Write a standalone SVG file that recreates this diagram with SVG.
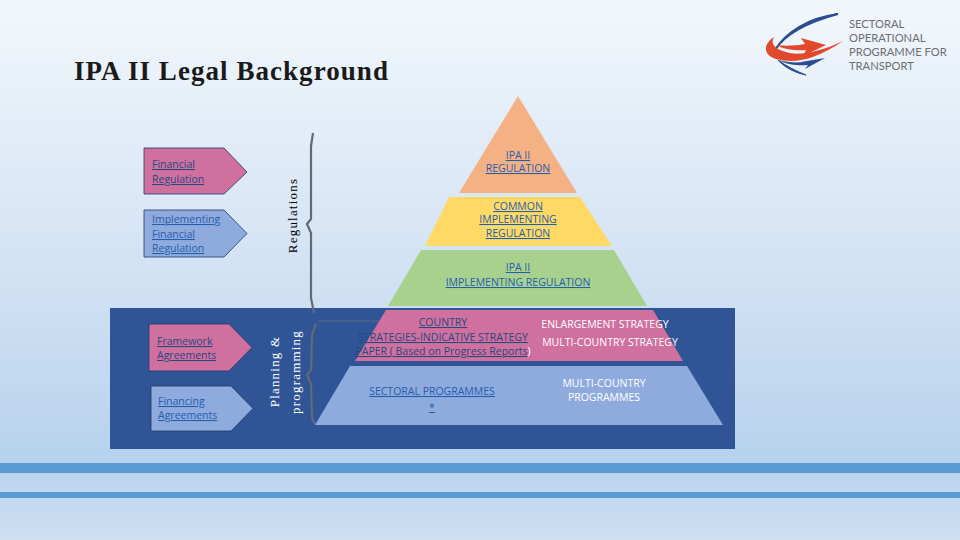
<svg xmlns="http://www.w3.org/2000/svg" width="960" height="540" viewBox="0 0 960 540">
<style>
text{font-family:"Open Sans","Liberation Sans",sans-serif;font-size:10.5px;text-anchor:middle}
.l{fill:#1f5fae;text-decoration:underline}
.ls{text-anchor:start}
.d{fill:#24497f}
.w{fill:#fff}
.v{font-family:"Liberation Serif",serif;font-size:13px;letter-spacing:1.2px}
.bar{fill:#5b9bd5}
.a{stroke:#1f3864;stroke-width:.8}
.b{fill:none;stroke:#5f6b75;stroke-width:2.2;stroke-linejoin:round}
.logo{font-family:"Lato","Open Sans",sans-serif;font-size:11.2px;fill:#6d6e71;text-anchor:start}
</style>
<defs>
<linearGradient id="bg" x1="0" y1="0" x2="0" y2="1">
<stop offset="0" stop-color="#f2f7fb"/><stop offset="0.55" stop-color="#cfe0f3"/><stop offset="0.85" stop-color="#b6d2ec"/><stop offset="1" stop-color="#cfe0f2"/>
</linearGradient>
</defs>
<rect width="960" height="540" fill="url(#bg)"/>
<rect class="bar" x="0" y="463" width="960" height="10"/>
<rect class="bar" x="0" y="492" width="960" height="6"/>
<rect x="110" y="308" width="625" height="141" fill="#2f5597"/>
<text x="74" y="80" style="font-family:'Liberation Serif',serif;font-size:27px;font-weight:bold;text-anchor:start;fill:#1a1a1a;letter-spacing:1.05px">IPA II Legal Background</text>

<g id="logo">
<path d="M838 14C808 18 786 32 775 50C785 34 808 22 838 14Z" fill="#2a4d8f" stroke="#2a4d8f" stroke-width="2"/>
<path d="M774 37C762 45 764 55 776 59C795 64 815 60 843 41C818 53 797 56 786 52C775 49 770 44 774 37Z" fill="#e0492c"/>
<path d="M776 45C785 50 800 51 806 50L803 56L826 45L801 38L805 44C795 46 783 46 776 45Z" fill="#e0492c"/>
<path d="M778 60C788 65 800 66 808 65L805 69L825 58L801 62L804 62C795 63 786 62 778 60Z" fill="#2a4d8f"/>
<path d="M778 60C785 68 796 73 806 75C796 71 786 66 778 60Z" fill="#2a4d8f" stroke="#2a4d8f"/>
<text class="logo" x="849" y="28">SECTORAL</text>
<text class="logo" x="849" y="42">OPERATIONAL</text>
<text class="logo" x="849" y="56">PROGRAMME FOR</text>
<text class="logo" x="849" y="70">TRANSPORT</text>
</g>

<g id="connectors">
<path class="b" d="M313 133L311 146L311 219L307 224L311 233L311 298L314 313"/>
<path class="b" d="M316 324L312 335L311 370L307 375L311 384L312 418L315 424"/>
<path d="M318 321H541" stroke="#6b6f80" stroke-width=".8"/>
</g>

<g id="node-financial-regulation">
<polygon class="a" points="144,148 224,148 247,172 224,194 144,194" fill="#d0709f"/>
<text class="l ls d" x="152" y="168">Financial</text>
<text class="l ls d" x="152" y="183">Regulation</text>
</g>
<g id="node-implementing-financial-regulation">
<polygon class="a" points="144,210 224,210 247,233.500 224,257 144,257" fill="#8faadc"/>
<text class="l ls" x="152" y="223">Implementing</text>
<text class="l ls" x="152" y="238">Financial</text>
<text class="l ls" x="152" y="252">Regulation</text>
</g>
<g id="node-framework-agreements">
<polygon class="a" points="149,324 229,324 252,347.500 229,371 149,371" fill="#d0709f"/>
<text class="l ls d" x="157" y="345">Framework</text>
<text class="l ls d" x="157" y="359">Agreements</text>
</g>
<g id="node-financing-agreements">
<polygon class="a" points="151,386 231,386 253,408.500 231,431 151,431" fill="#8faadc"/>
<text class="l ls" x="158" y="405">Financing</text>
<text class="l ls" x="158" y="419">Agreements</text>
</g>

<g id="label-regulations"><text class="v" transform="translate(297 215.500) rotate(-90)">Regulations</text></g>
<g id="label-planning"><text class="v w" transform="translate(279 371.500) rotate(-90)">Planning &amp;</text>
<text class="v w" transform="translate(300 372) rotate(-90)">programming</text></g>

<g id="node-ipa-regulation">
<polygon points="518,96 577,193 459,193" fill="#f4b183"/>
<text class="l" x="518" y="159">IPA II</text>
<text class="l" x="518" y="172">REGULATION</text>
</g>
<g id="node-common-implementing">
<polygon points="449,197 580,197 612,246 425,246" fill="#ffd966"/>
<text class="l" x="518" y="210">COMMON</text>
<text class="l" x="518" y="223">IMPLEMENTING</text>
<text class="l" x="518" y="237">REGULATION</text>
</g>
<g id="node-ipa-implementing">
<polygon points="421,250 614,250 647,306 388,306" fill="#a9d18e"/>
<text class="l" x="518" y="271">IPA II</text>
<text class="l" x="518" y="286">IMPLEMENTING REGULATION</text>
</g>
<g id="node-country-strategies">
<polygon points="386,310 653,310 683,361 355,361" fill="#d0709f"/>
<text class="l d" x="443" y="326">COUNTRY</text>
<text class="l d" x="443" y="341">STRATEGIES-INDICATIVE STRATEGY</text>
<text class="l d" x="443" y="355">PAPER ( Based on Progress Reports<tspan class="w" style="text-decoration:none">)</tspan></text>
<text class="w" x="605" y="328">ENLARGEMENT STRATEGY</text>
<text class="w" x="610" y="346">MULTI-COUNTRY STRATEGY</text>
</g>
<g id="node-sectoral-programmes">
<polygon points="350,366 687,366 723,425 315,425" fill="#8faadc"/>
<text class="l" x="432" y="395">SECTORAL PROGRAMMES</text>
<text class="l" x="432" y="411">*</text>
<text class="w" x="604" y="387">MULTI-COUNTRY</text>
<text class="w" x="604" y="401">PROGRAMMES</text>
</g>
</svg>
